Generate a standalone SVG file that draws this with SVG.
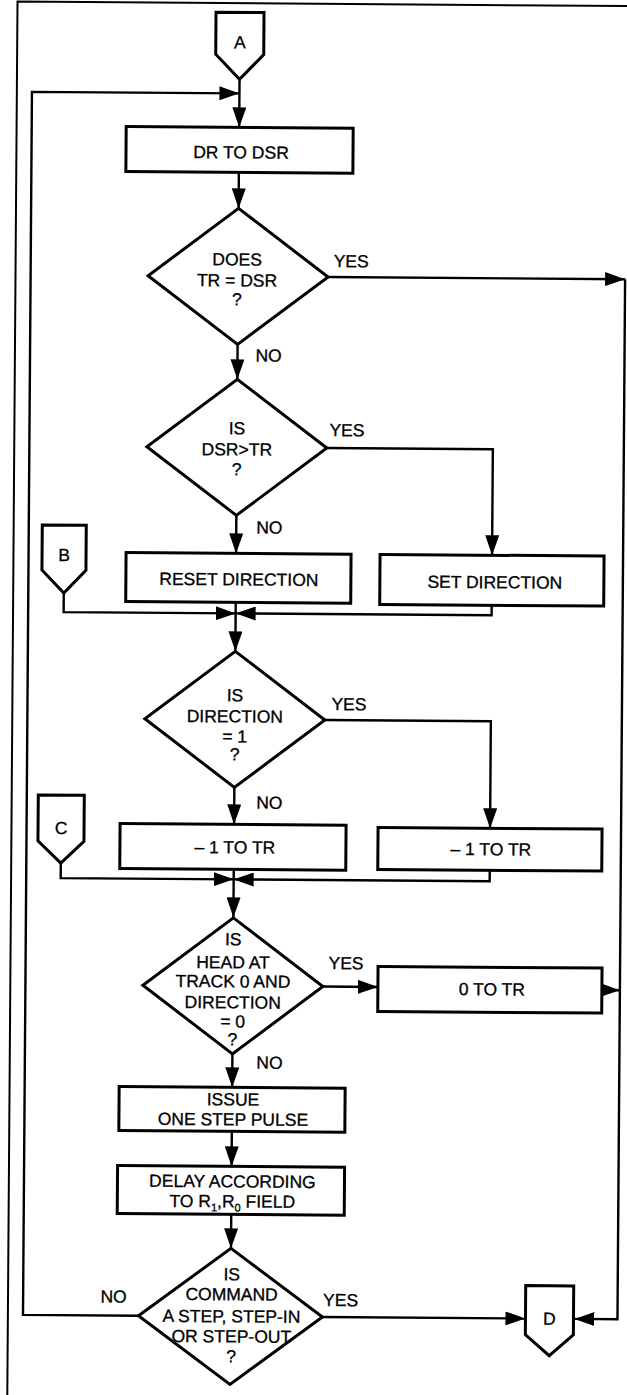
<svg xmlns="http://www.w3.org/2000/svg" width="627" height="1395" viewBox="0 0 627 1395">
<style>
.box{fill:#fff;stroke:#000;stroke-width:3}
.dia{fill:#fff;stroke:#000;stroke-width:3;stroke-linejoin:miter}
.conn{fill:none;stroke:#000;stroke-width:2.4}
.frame{fill:none;stroke:#000;stroke-width:2}
text{font-family:"Liberation Sans",Arial,sans-serif;font-size:17.5px;fill:#000;stroke:#000;stroke-width:0.3}
.c{text-anchor:middle}
.sub{font-size:11px}
</style>
<defs>
<marker id="ah" markerUnits="userSpaceOnUse" markerWidth="20" markerHeight="14" refX="20" refY="7" orient="auto">
<path d="M0,0 L20,7 L0,14 z" fill="#000"/>
</marker>
</defs>
<rect width="627" height="1395" fill="#fff"/>
<g transform="rotate(0.42 320 700)">
<path class="frame" d="M12.4,1420 V3.8 H700"/>
<g id="connectors">
<path class="conn" d="M235,80 V128" marker-end="url(#ah)"/>
<path class="conn" d="M143,1317 H27.5 V94 H235" marker-end="url(#ah)"/>
<path class="conn" d="M235,173 V209" marker-end="url(#ah)"/>
<path class="conn" d="M325,277 H622" marker-end="url(#ah)"/>
<path class="conn" d="M622,277 V1317 H579" marker-end="url(#ah)"/>
<path class="conn" d="M235,345 V380" marker-end="url(#ah)"/>
<path class="conn" d="M325,448 H491 V554" marker-end="url(#ah)"/>
<path class="conn" d="M235,516 V554" marker-end="url(#ah)"/>
<path class="conn" d="M63,595 V614 H235" marker-end="url(#ah)"/>
<path class="conn" d="M491,604 V614 H235" marker-end="url(#ah)"/>
<path class="conn" d="M235,603 V652" marker-end="url(#ah)"/>
<path class="conn" d="M325,720 H491 V827" marker-end="url(#ah)"/>
<path class="conn" d="M235,788 V825" marker-end="url(#ah)"/>
<path class="conn" d="M62,865 V880 H235" marker-end="url(#ah)"/>
<path class="conn" d="M491,869 V880 H235" marker-end="url(#ah)"/>
<path class="conn" d="M235,870 V918" marker-end="url(#ah)"/>
<path class="conn" d="M325,986.5 H380" marker-end="url(#ah)"/>
<path class="conn" d="M604,988 H622" marker-end="url(#ah)"/>
<path class="conn" d="M235,1054 V1088" marker-end="url(#ah)"/>
<path class="conn" d="M235,1132 V1167" marker-end="url(#ah)"/>
<path class="conn" d="M235,1215 V1249" marker-end="url(#ah)"/>
<path class="conn" d="M327,1317 H530" marker-end="url(#ah)"/>
</g>
<g id="labels">
<text class="c" x="348" y="267">YES</text>
<text x="253" y="362">NO</text>
<text class="c" x="345" y="436">YES</text>
<text x="255" y="534">NO</text>
<text class="c" x="349" y="710">YES</text>
<text x="257" y="809">NO</text>
<text class="c" x="348" y="969">YES</text>
<text x="259" y="1069">NO</text>
<text class="c" x="118" y="1304">NO</text>
<text class="c" x="345" y="1306">YES</text>
</g>
<g id="connA">
<path class="box" d="M211,13 H259 V55 L235,80 L211,55 Z"/>
<text class="c" x="235" y="49">A</text>
</g>
<g id="box1">
<rect class="box" x="122" y="128" width="227" height="45"/>
<text class="c" x="237" y="159">DR TO DSR</text>
</g>
<g id="dec1">
<path class="dia" d="M235,209 L325,277 L235,345 L145,277 Z"/>
<text class="c" x="234" y="266">DOES</text>
<text class="c" x="234" y="287">TR = DSR</text>
<text class="c" x="234" y="306">?</text>
</g>
<g id="dec2">
<path class="dia" d="M235,380 L325,448 L235,516 L145,448 Z"/>
<text class="c" x="235" y="435">IS</text>
<text class="c" x="235" y="456">DSR&gt;TR</text>
<text class="c" x="235" y="476">?</text>
</g>
<g id="connB">
<path class="box" d="M41,527 H85 V572 L63,595 L41,572 Z"/>
<text class="c" x="63" y="563">B</text>
</g>
<g id="resetDir">
<rect class="box" x="125" y="554" width="225" height="49"/>
<text class="c" x="238" y="586">RESET DIRECTION</text>
</g>
<g id="setDir">
<rect class="box" x="379" y="554" width="224" height="50"/>
<text class="c" x="494" y="587">SET DIRECTION</text>
</g>
<g id="dec3">
<path class="dia" d="M235,652 L325,720 L235,788 L145,720 Z"/>
<text class="c" x="235" y="702">IS</text>
<text class="c" x="235" y="723">DIRECTION</text>
<text class="c" x="235" y="743">= 1</text>
<text class="c" x="235" y="761">?</text>
</g>
<g id="connC">
<path class="box" d="M39,797 H85 V843 L62,865 L39,843 Z"/>
<text class="c" x="62" y="836">C</text>
</g>
<g id="decLeft">
<rect class="box" x="121" y="825" width="226" height="45"/>
<text class="c" x="236" y="854">– 1 TO TR</text>
</g>
<g id="decRight">
<rect class="box" x="379" y="827" width="224" height="42"/>
<text class="c" x="492" y="854">– 1 TO TR</text>
</g>
<g id="dec4">
<path class="dia" d="M235,918.5 L325,986.5 L235,1054.5 L145,986.5 Z"/>
<text class="c" x="235" y="946">IS</text>
<text class="c" x="235" y="969">HEAD AT</text>
<text class="c" x="235" y="988">TRACK 0 AND</text>
<text class="c" x="235" y="1009">DIRECTION</text>
<text class="c" x="235" y="1028">= 0</text>
<text class="c" x="235" y="1046">?</text>
</g>
<g id="zeroTr">
<rect class="box" x="380" y="966" width="224" height="45"/>
<text class="c" x="494" y="994">0 TO TR</text>
</g>
<g id="issue">
<rect class="box" x="122" y="1088" width="226" height="44"/>
<text class="c" x="236" y="1106">ISSUE</text>
<text class="c" x="236" y="1126">ONE STEP PULSE</text>
</g>
<g id="delay">
<rect class="box" x="121" y="1167" width="227" height="48"/>
<text class="c" x="236" y="1188">DELAY ACCORDING</text>
<text class="c" x="236" y="1208">TO R<tspan class="sub" dy="4">1</tspan><tspan dy="-4">,R</tspan><tspan class="sub" dy="4">0</tspan><tspan dy="-4"> FIELD</tspan></text>
</g>
<g id="dec5">
<path class="dia" d="M235,1249 L327,1317 L235,1385 L143,1317 Z"/>
<text class="c" x="236" y="1281">IS</text>
<text class="c" x="236" y="1301">COMMAND</text>
<text class="c" x="236" y="1323">A STEP, STEP-IN</text>
<text class="c" x="236" y="1343">OR STEP-OUT</text>
<text class="c" x="236" y="1363">?</text>
</g>
<g id="connD">
<path class="box" d="M530,1284 H578 V1333 L554,1354 L530,1333 Z"/>
<text class="c" x="554" y="1323">D</text>
</g>
</g>
</svg>
